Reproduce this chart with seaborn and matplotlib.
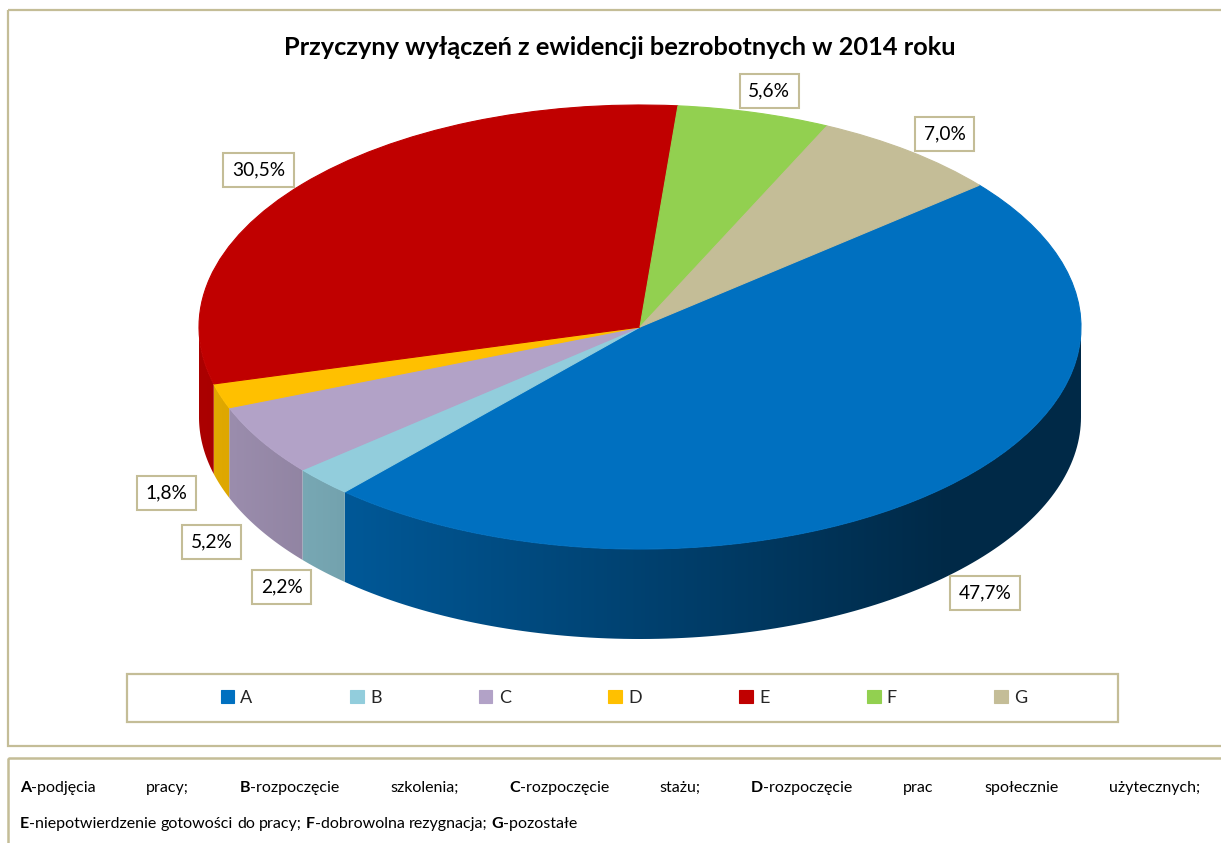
import numpy as np
import matplotlib
matplotlib.use('Agg')
import matplotlib.pyplot as plt
from matplotlib.patches import Rectangle, Polygon
import seaborn as sns

# data
categories = ['A', 'B', 'C', 'D', 'E', 'F', 'G']
shares = [47.7, 2.2, 5.2, 1.8, 30.5, 5.6, 7.0]
descriptions = ['podjęcia pracy', 'rozpoczęcie szkolenia', 'rozpoczęcie stażu',
                'rozpoczęcie prac społecznie użytecznych',
                'niepotwierdzenie gotowości do pracy', 'dobrowolna rezygnacja', 'pozostałe']
title = 'Przyczyny wyłączeń z ewidencji bezrobotnych w 2014 roku'

palette = sns.color_palette(['#0070C0', '#92CDDC', '#B2A2C7', '#FFC000',
                             '#C00000', '#92D050', '#C4BD97'])
frame_color = '#C4BD97'

sns.set_theme(style='white')
plt.rcParams['font.family'] = ['Lato', 'DejaVu Sans']

W, H = 1221, 843
fig = plt.figure(figsize=(W / 100, H / 100), dpi=100)
fig.patch.set_facecolor('white')
renderer = fig.canvas.get_renderer()

# background axes in pixel units for frames and text
bg = fig.add_axes([0, 0, 1, 1], zorder=0)
bg.set_xlim(0, W)
bg.set_ylim(H, 0)
bg.axis('off')
bg.add_patch(Rectangle((8, 10), W, 736, fill=False, ec=frame_color, lw=1.6))
bg.add_patch(Rectangle((127, 674), 991, 48, fill=False, ec=frame_color, lw=1.6))
bg.add_patch(Rectangle((8, 758), W, 200, fill=False, ec=frame_color, lw=1.8))


def text_w(s, fs, weight='normal'):
    t = bg.text(0, 0, s, fontsize=fs, fontweight=weight)
    w = t.get_window_extent(renderer).width
    t.remove()
    return w


# title, sized to the reference width
fs_title = 14 * 677 / text_w(title, 14, 'bold')
bg.text(620, 55, title, ha='center', va='baseline', fontsize=fs_title,
        fontweight='bold', color='black')

# 3D-looking pie: ellipse top + shaded side wall
cx, cy, rx, ry, depth = 640, 327, 441, 222, 90
x0, x1, y0, y1 = -1.2, 1.2, -1.6, 1.1
top_px, bot_px = cy - y1 * ry, cy - y0 * ry
ax = fig.add_axes([(cx + x0 * rx) / W, 1 - bot_px / H, (x1 - x0) * rx / W,
                   (bot_px - top_px) / H], zorder=1)
start = 39.7
wedges, _ = ax.pie(shares, colors=palette, startangle=start, counterclock=False,
                   wedgeprops=dict(linewidth=0.8))
for w in wedges:
    w.set_edgecolor(w.get_facecolor())
ax.set_aspect('auto')
d = depth / ry

edges = start - 3.6 * np.concatenate([[0], np.cumsum(shares)])
shade_x = np.linspace(-1, 1, 400)
shade = np.interp(shade_x, [-1, 0.7, 1], [0.89, 0.37, 0.37])
for i in range(len(shares)):
    a, b = max(edges[i + 1], -180), min(edges[i], 0)
    if a >= b:
        continue
    t = np.radians(np.linspace(a, b, 120))
    xs, ys = np.cos(t), np.sin(t)
    verts = np.concatenate([np.column_stack([xs, ys]),
                            np.column_stack([xs[::-1], ys[::-1] - d])])
    clip = Polygon(verts, closed=True, transform=ax.transData)
    img = shade[None, :, None] * np.array(palette[i])[None, None, :]
    im = ax.imshow(img, extent=[-1, 1, -1 - d, 0], aspect='auto', zorder=0.5,
                   interpolation='bilinear')
    im.set_clip_path(clip)

ax.set_xlim(x0, x1)
ax.set_ylim(y0, y1)
ax.axis('off')

# percentage labels outside the slices
mids = (edges[:-1] + edges[1:]) / 2
fs_lab = 12 * 53 / text_w('47,7%', 12)
for m, s in zip(mids, shares):
    t = np.radians(m)
    lx, ly = 1.13 * np.cos(t), 1.1 * np.sin(t)
    if np.sin(t) < 0:
        ly -= d
    ax.text(lx, ly, f'{s:.1f}%'.replace('.', ','), ha='center', va='center',
            fontsize=fs_lab, color='black', zorder=5,
            bbox=dict(boxstyle='square,pad=0.45', fc='white', ec=frame_color, lw=1.5))

# legend
fs_leg = 13
fig.legend(wedges, categories, ncol=7, loc='center',
           bbox_to_anchor=(624 / W, 1 - 698 / H), frameon=False, fontsize=fs_leg,
           handlelength=0.75, handleheight=0.75, handletextpad=0.35,
           columnspacing=5.4)

# footnote
line2_plain = '; '.join(f'{c}-{t}' for c, t in zip(categories[4:], descriptions[4:]))
fs_note = 1.1 * 11 * 508 / text_w(line2_plain, 11)
space = text_w('a b', fs_note) - text_w('ab', fs_note)


def make_words(idx):
    words = []
    for k, i in enumerate(idx):
        parts = descriptions[i].split(' ')
        last = k == len(idx) - 1 and i == len(categories) - 1
        for j, p in enumerate(parts):
            txt = p + (';' if j == len(parts) - 1 and not last else '')
            if j == 0:
                words.append([(categories[i], 'bold'), ('-' + txt, 'normal')])
            else:
                words.append([(txt, 'normal')])
    return words


def word_w(word):
    return sum(text_w(s, fs_note, wt) for s, wt in word)


def draw_line(words, y, x_start, x_end=None):
    widths = [word_w(wd) for wd in words]
    gap = space if x_end is None else (x_end - x_start - sum(widths)) / (len(words) - 1)
    x = x_start
    for wd, ww in zip(words, widths):
        xx = x
        for s, wt in wd:
            bg.text(xx, y, s, fontsize=fs_note, fontweight=wt, ha='left',
                    va='baseline', color='black')
            xx += text_w(s, fs_note, wt)
        x += ww + gap


draw_line(make_words([0, 1, 2, 3]), 792, 20, 1200)
draw_line(make_words([4, 5, 6]), 828, 20)

fig.savefig('out.png', dpi=100)
